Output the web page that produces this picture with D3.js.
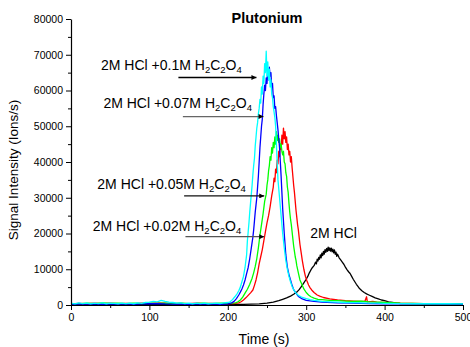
<!DOCTYPE html>
<html><head><meta charset="utf-8">
<script src="https://cdn.jsdelivr.net/npm/d3@7"></script>
<style>
body{margin:0;background:#fff;}
svg{display:block;font-family:"Liberation Sans",Arial,sans-serif;}
</style></head>
<body><svg id="c" width="470" height="347"></svg>
<script>
// ---- data (time s, signal ions/s) ----
const hcl = [[0,100],[20,150],[40,100],[60,150],[80,100],[100,200],[120,150],[140,100],[160,150],[180,100],[200,200],[220,200],[240,300],[250,500],[258,800],[265,1200],[270,1600],[275,2000],[280,2500],[284,3000],[288,3600],[291,4300],[294,5200],[297,6200],[300,7200],[302,8000],[304,9000],[306,9800],[308,10500],[310,11000],[312,12000],[313,11500],[314,12800],[315,12300],[316,13300],[317,12800],[318,14000],[319,13200],[320,14500],[321,13800],[322,15000],[323,14200],[324,15500],[325,14700],[326,15800],[327,15000],[328,16200],[329,15200],[330,16000],[331,15100],[332,15900],[333,14900],[334,15600],[335,14600],[336,15400],[337,14200],[338,14800],[339,13600],[340,14200],[342,13200],[344,12600],[346,12000],[348,11400],[350,10600],[352,9900],[354,9300],[356,8800],[358,8000],[360,7200],[362,6500],[364,5800],[366,5200],[368,4600],[371,4000],[374,3500],[377,3100],[380,2800],[384,2400],[388,2000],[392,1700],[396,1400],[400,1200],[405,900],[410,700],[415,500],[420,400],[440,300],[460,250],[480,250],[500,200]];

const ox002 = [[0,300],[10,450],[20,350],[30,500],[40,400],[50,550],[60,350],[70,450],[80,400],[90,500],[100,450],[110,600],[120,500],[130,400],[140,450],[150,350],[160,500],[170,400],[180,450],[190,350],[200,450],[207,400],[214,600],[217,900],[220,1400],[223,2000],[226,2700],[229,3400],[232,4200],[234,5500],[236,7000],[238,9000],[240,11500],[242,13500],[244,15500],[246,18000],[248,20500],[250,23000],[252,25000],[254,27500],[256,30500],[258,33000],[259,35500],[260,34500],[261,38000],[262,37000],[263,40500],[264,39500],[265,43000],[266,41500],[267,45000],[268,43500],[269,47500],[270,45000],[271,49500],[272,46500],[273,48500],[274,45500],[275,47000],[276,43500],[277,45000],[278,42000],[279,43000],[280,40000],[281,41500],[282,38500],[283,36000],[284,33500],[285,31500],[286,29000],[287,26500],[288,24500],[289,22500],[290,21000],[291,19000],[292,17000],[293,15500],[294,14000],[295,12500],[296,11200],[297,10000],[298,9000],[299,8000],[301,6700],[303,5600],[305,4800],[307,4200],[310,3500],[314,2800],[318,2400],[322,2100],[330,1700],[340,1400],[350,1200],[360,1100],[370,1000],[375,1100],[377,2300],[378,900],[385,1000],[390,800],[400,700],[420,500],[450,400],[500,350]];

const ox005 = [[0,400],[10,300],[20,550],[30,400],[40,600],[50,450],[60,500],[70,350],[80,550],[90,400],[100,500],[110,450],[120,550],[130,400],[140,500],[150,400],[160,450],[170,550],[180,400],[190,500],[200,450],[205,500],[210,600],[213,900],[216,1400],[219,2200],[222,3300],[225,4400],[228,5800],[231,7500],[233,9000],[235,10800],[237,13000],[239,16000],[241,19500],[243,22500],[245,25500],[247,29000],[249,31000],[250,33500],[251,35000],[252,37500],[253,39000],[254,41500],[255,40500],[256,44000],[257,42500],[258,45500],[259,44000],[260,47000],[261,45000],[262,48500],[263,46000],[264,47500],[265,45500],[266,46500],[267,44000],[268,45000],[269,43000],[270,42000],[271,43000],[272,40000],[273,39500],[274,37000],[275,36000],[276,33000],[277,31500],[278,28500],[279,26000],[280,24000],[281,22500],[282,20500],[283,18500],[284,16500],[285,15000],[286,13500],[287,12500],[288,11000],[290,9000],[292,7000],[294,6000],[297,4500],[300,3500],[303,2800],[306,2300],[310,1900],[315,1600],[320,1500],[330,1300],[340,1200],[350,1100],[360,1000],[370,1100],[380,900],[390,800],[400,700],[420,500],[450,400],[500,350]];

const ox007 = [[0,200],[10,300],[20,250],[30,350],[40,200],[50,300],[60,250],[70,350],[80,200],[90,300],[100,350],[110,400],[120,300],[130,250],[140,300],[150,200],[160,300],[170,250],[180,300],[190,200],[200,300],[205,600],[208,1000],[211,1800],[214,2800],[216,3600],[218,4500],[220,5600],[222,7000],[224,8800],[226,10500],[228,13000],[230,16000],[232,19000],[233,21000],[234,23500],[235,26000],[236,28000],[237,30000],[238,33000],[239,36000],[240,40000],[241,44000],[242,47000],[243,50000],[244,52000],[245,56000],[246,59000],[247,61500],[248,60000],[249,63500],[250,62000],[251,66000],[252,63000],[253,66500],[254,64000],[255,65000],[256,61000],[257,62000],[258,58000],[259,58500],[260,55000],[261,55500],[262,53000],[263,51000],[264,49000],[265,46500],[266,44000],[267,40000],[268,36000],[269,31500],[270,27000],[271,23500],[272,20000],[273,17000],[274,14000],[276,10500],[278,8500],[280,7000],[282,5500],[284,4300],[287,3300],[290,2400],[295,1700],[300,1300],[310,1000],[320,800],[340,600],[360,500],[380,400],[400,350],[450,300],[500,250]];

const ox010 = [[0,500],[5,300],[10,600],[15,400],[20,550],[25,350],[30,500],[35,400],[40,600],[45,350],[50,500],[55,450],[60,350],[65,550],[70,400],[75,500],[80,350],[85,600],[90,450],[95,700],[100,800],[105,1000],[110,900],[115,1300],[120,1000],[125,800],[130,700],[135,500],[140,600],[145,400],[150,500],[155,350],[160,550],[165,400],[170,500],[175,350],[180,450],[185,500],[190,400],[195,600],[200,700],[203,900],[206,1500],[209,2300],[212,3200],[214,4000],[216,5000],[218,6500],[220,8000],[222,10500],[224,14000],[225,18000],[226,20500],[227,23000],[228,26000],[229,28500],[230,31000],[231,33500],[232,36500],[233,39000],[234,41000],[235,44500],[236,47000],[237,49500],[238,51000],[239,53500],[240,55000],[241,57500],[242,56500],[243,61000],[244,59000],[245,64000],[246,62000],[247,67500],[248,65000],[249,71000],[250,64000],[251,68000],[252,63000],[253,66000],[254,61000],[255,63000],[256,59000],[257,58000],[258,55500],[259,54000],[260,52500],[261,50000],[262,45000],[263,40000],[264,35000],[265,32500],[266,30000],[268,25000],[270,20000],[272,16000],[274,12500],[276,10000],[278,8000],[280,6500],[282,5200],[284,4300],[287,3300],[290,2700],[295,2100],[300,1800],[305,1500],[310,1300],[320,1000],[330,900],[340,800],[350,700],[360,650],[370,600],[380,550],[390,500],[400,450],[420,400],[440,350],[460,400],[480,350],[500,300]];

const seriesData = [hcl, ox002, ox005, ox007, ox010];
const seriesColors = ["#000000", "#ff0000", "#00ff00", "#0000ff", "#00ffff"];

const xTicks = [0, 100, 200, 300, 400, 500];
const xMinor = [50, 150, 250, 350, 450];
const yTicks = [0, 10000, 20000, 30000, 40000, 50000, 60000, 70000, 80000];
const yMinor = [5000, 15000, 25000, 35000, 45000, 55000, 65000, 75000];

const titleText = "Plutonium";
const xTitle = "Time (s)";
const yTitle = "Signal Intensity (Ions/s)";
const labelConc = ["0.1M", "0.07M", "0.05M", "0.02M"];
const labelHCl = "2M HCl";

// ---- layout ----
const svg = d3.select("#c");
const x = d3.scaleLinear().domain([0, 500]).range([71, 463]);
const y = d3.scaleLinear().domain([0, 80000]).range([305, 19]);

// curves
const line = d3.line().x(d => x(d[0])).y(d => y(d[1]));
svg.append("g").selectAll("path").data(seriesData).join("path")
  .attr("d", line).attr("fill", "none")
  .attr("stroke", (d, i) => seriesColors[i]).attr("stroke-width", 1.3)
  .attr("stroke-linejoin", "round");

// axes
const xa = svg.append("g").attr("transform", "translate(0,305)")
  .call(d3.axisBottom(x).tickValues(xTicks).tickSize(5).tickSizeOuter(0).tickFormat(d3.format("d")));
svg.append("g").attr("transform", "translate(0,305)")
  .call(d3.axisBottom(x).tickValues(xMinor).tickSize(3).tickSizeOuter(0).tickFormat(""))
  .select(".domain").remove();
const ya = svg.append("g").attr("transform", "translate(71,0)")
  .call(d3.axisLeft(y).tickValues(yTicks).tickSize(5).tickSizeOuter(0).tickFormat(d3.format("d")));
svg.append("g").attr("transform", "translate(71,0)")
  .call(d3.axisLeft(y).tickValues(yMinor).tickSize(3).tickSizeOuter(0).tickFormat(""))
  .select(".domain").remove();
svg.selectAll(".domain").attr("stroke", "#000").attr("stroke-width", 1.2);
svg.selectAll(".tick line").attr("stroke", "#000");
xa.selectAll("text").attr("font-size", 10.5).attr("font-family", "Liberation Sans, Arial, sans-serif").attr("fill", "#000").attr("dy", "0.95em").attr("y", 6);
ya.selectAll("text").attr("font-size", 10.5).attr("font-family", "Liberation Sans, Arial, sans-serif").attr("fill", "#000").attr("x", -8);

// titles
svg.append("text").attr("x", 267).attr("y", 23).attr("text-anchor", "middle")
  .attr("font-size", 14.5).attr("font-weight", "bold").text(titleText);
svg.append("text").attr("x", 264).attr("y", 344).attr("text-anchor", "middle")
  .attr("font-size", 14).text(xTitle);
svg.append("text").attr("transform", "translate(18,170) rotate(-90)").attr("text-anchor", "middle")
  .attr("font-size", 13.5).text(yTitle);

// annotations (positions in data units)
const annPos = [
  {tx: 38.3, ty: 65800, a0: 137, a1: 236.5, ay: 63640, col: "#000"},
  {tx: 41.3, ty: 55080, a0: 142.7, a1: 245.6, ay: 52720, col: "#666"},
  {tx: 33.6, ty: 32480, a0: 144.3, a1: 246.5, ay: 30520, col: "#111"},
  {tx: 27.7, ty: 20720, a0: 146, a1: 246.5, ay: 19120, col: "#555"}
];
svg.append("defs").append("marker").attr("id", "ah")
  .attr("viewBox", "0 0 10 10").attr("refX", 10).attr("refY", 5)
  .attr("markerWidth", 8).attr("markerHeight", 5).attr("markerUnits", "userSpaceOnUse")
  .attr("orient", "auto").append("path").attr("d", "M0,0L10,5L0,10Z").attr("fill", "#000");

annPos.forEach((p, i) => {
  const t = svg.append("text").attr("x", x(p.tx)).attr("y", y(p.ty)).attr("font-size", 14).attr("fill", "#000");
  t.append("tspan").text("2M HCl +" + labelConc[i] + " H");
  t.append("tspan").attr("font-size", 9.5).attr("dy", 3).text("2");
  t.append("tspan").attr("dy", -3).text("C");
  t.append("tspan").attr("font-size", 9.5).attr("dy", 3).text("2");
  t.append("tspan").attr("dy", -3).text("O");
  t.append("tspan").attr("font-size", 9.5).attr("dy", 3).text("4");
  svg.append("line").attr("x1", x(p.a0)).attr("x2", x(p.a1)).attr("y1", y(p.ay)).attr("y2", y(p.ay))
    .attr("stroke", p.col).attr("stroke-width", 1.3).attr("marker-end", "url(#ah)");
});
svg.append("text").attr("x", x(305.2)).attr("y", y(18840)).attr("font-size", 14).text(labelHCl);
</script></body></html>
